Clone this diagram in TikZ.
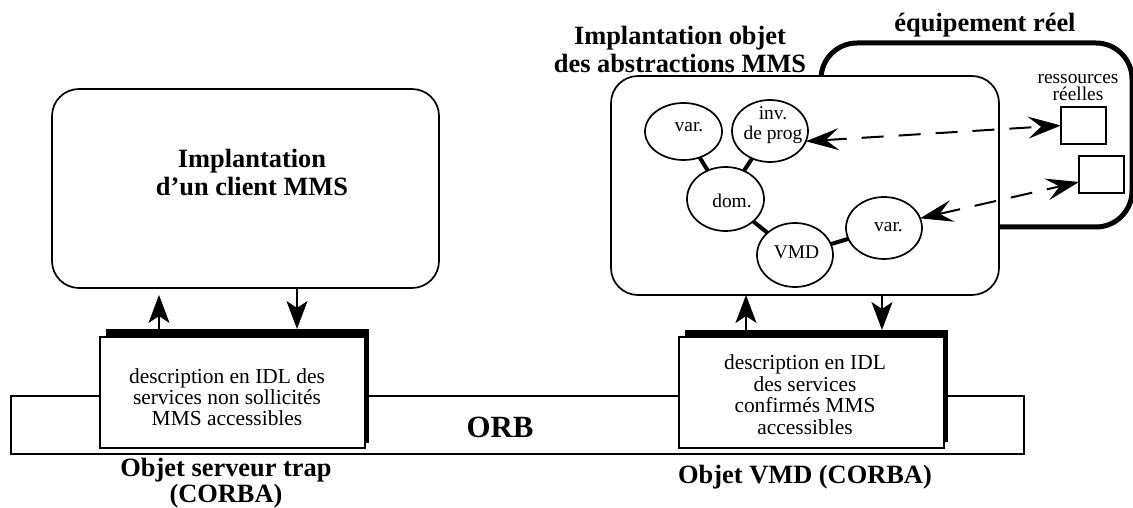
\documentclass[tikz,border=0pt]{standalone}
\usepackage{fontspec}
\setmainfont{Liberation Serif}
\usetikzlibrary{arrows.meta,shapes.geometric}
\begin{document}
\begin{tikzpicture}[x=1bp,y=-1bp,
  every node/.style={inner sep=0pt, outer sep=0pt},
  bigbox/.style={draw, line width=1.7bp, rounded corners=27bp, fill=white, rectangle},
  equipbox/.style={draw, line width=5bp, rounded corners=36bp, fill=white, rectangle},
  idlbox/.style={draw, line width=1.6bp, fill=white, rectangle},
  shadowbox/.style={fill=black, rectangle},
  orbbar/.style={draw, line width=1.6bp, rectangle},
  resbox/.style={draw, line width=1.8bp, fill=white, rectangle},
  txt/.style={font=\fontsize{21.5}{21}\selectfont, align=center},
  objtxt/.style={font=\fontsize{19.5}{20}\selectfont, align=center},
  smalltxt/.style={font=\fontsize{19.5}{18}\selectfont, align=center},
  title/.style={font=\fontsize{26.5}{26.5}\selectfont\bfseries, align=center},
  obj/.style={ellipse, draw, line width=1.7bp, fill=white},
  link/.style={line width=4bp},
  flow/.style={-{Stealth[length=28bp,width=21bp,inset=7bp]}, line width=1.6bp},
  dashflow/.style={{Stealth[length=33bp,width=22bp,inset=13bp]}-{Stealth[length=33bp,width=22bp,inset=13bp]},
                   dash pattern=on 22bp off 15bp, line width=2bp}
]
\useasboundingbox (0,0) rectangle (1133,508);

% ORB bus
\node[orbbar, minimum width=1013bp, minimum height=58bp] (orb) at (517.5,425) {};
\node[font=\fontsize{31}{31}\selectfont\bfseries, anchor=base] (orblbl) at (500,437) {ORB};

% IDL interface of the trap server object
\node[shadowbox, minimum width=263bp, minimum height=114bp] (idlLsh) at (237.5,386) {};
\node[idlbox, minimum width=265bp, minimum height=111bp] (idlL) at (232.5,392.5) {};
\node[txt] (idlLtxt) at (227,397) {description en IDL des\\services non sollicités\\MMS accessibles};
\node[title] (trapobj) at (226,483) {Objet serveur trap\\(CORBA)};

% IDL interface of the VMD object
\node[shadowbox, minimum width=263bp, minimum height=112bp] (idlRsh) at (816.5,386) {};
\node[idlbox, minimum width=265bp, minimum height=111bp] (idlR) at (811.5,392.5) {};
\node[txt, font=\fontsize{21.5}{21.7}\selectfont] (idlRtxt) at (805,394.5) {description en IDL\\des services\\confirmés MMS\\accessibles};
\node[title, anchor=base] (vmdobj) at (805,483) {Objet VMD (CORBA)};

% MMS client
\node[bigbox, minimum width=387bp, minimum height=199bp] (client) at (245.5,188.5) {};
\node[title, font=\fontsize{26.5}{28}\selectfont\bfseries] (clienttxt) at (252,172.5) {Implantation\\d'un client MMS};

\draw[flow, shorten >=7bp] (idlLsh.north -| 159,0) -- (client.south -| 159,0);
\draw[flow] (client.south -| 297,0) -- (idlLsh.north -| 297,0);

% real equipment
\node[equipbox, minimum width=311bp, minimum height=184bp] (equip) at (976.5,135) {};
\node[title, anchor=base] (equiptxt) at (985,32) {équipement réel};
\node[smalltxt] (restxt) at (1078,87.5) {ressources\\réelles};
\node[resbox, minimum width=45bp, minimum height=37bp] (sq1) at (1083.5,125.5) {};
\node[resbox, minimum width=45bp, minimum height=37bp] (sq2) at (1101.5,174.5) {};

% object implementation of the MMS abstractions
\node[bigbox, minimum width=388bp, minimum height=219bp] (impl) at (805,185.5) {};
\node[title, font=\fontsize{26.5}{28}\selectfont\bfseries] (impltxt) at (680,49.5) {Implantation objet\\des abstractions MMS};

\node[obj, minimum width=77bp, minimum height=57bp] (var1) at (683.5,131.5) {};
\node[obj, minimum width=76bp, minimum height=62bp] (inv) at (770,131) {};
\node[obj, minimum width=77bp, minimum height=64bp] (dom) at (725.5,199) {};
\node[obj, minimum width=76bp, minimum height=64bp] (vmd) at (795,255) {};
\node[obj, minimum width=76bp, minimum height=62bp] (var2) at (884,228) {};

\node[objtxt] (var1txt) at (689,127.5) {var.};
\node[objtxt] (invtxt) at (773,125.3) {inv.\\de prog};
\node[objtxt] (domtxt) at (732,201) {dom.};
\node[objtxt] (vmdtxt) at (796.5,252.5) {VMD};
\node[objtxt] (var2txt) at (888.5,227.5) {var.};

\draw[link] (var1) -- (dom);
\draw[link] (inv) -- (dom);
\draw[link] (dom) -- (vmd);
\draw[link] (vmd) -- (var2);

\draw[dashflow] (inv.-16.5) -- (sq1.west);
\draw[dashflow] (var2.15.5) -- ([yshift=-7.5bp]sq2.west);

\draw[flow] (idlRsh.north -| 746,0) -- (impl.south -| 746,0);
\draw[flow] (impl.south -| 882,0) -- (idlRsh.north -| 882,0);
\end{tikzpicture}
\end{document}
